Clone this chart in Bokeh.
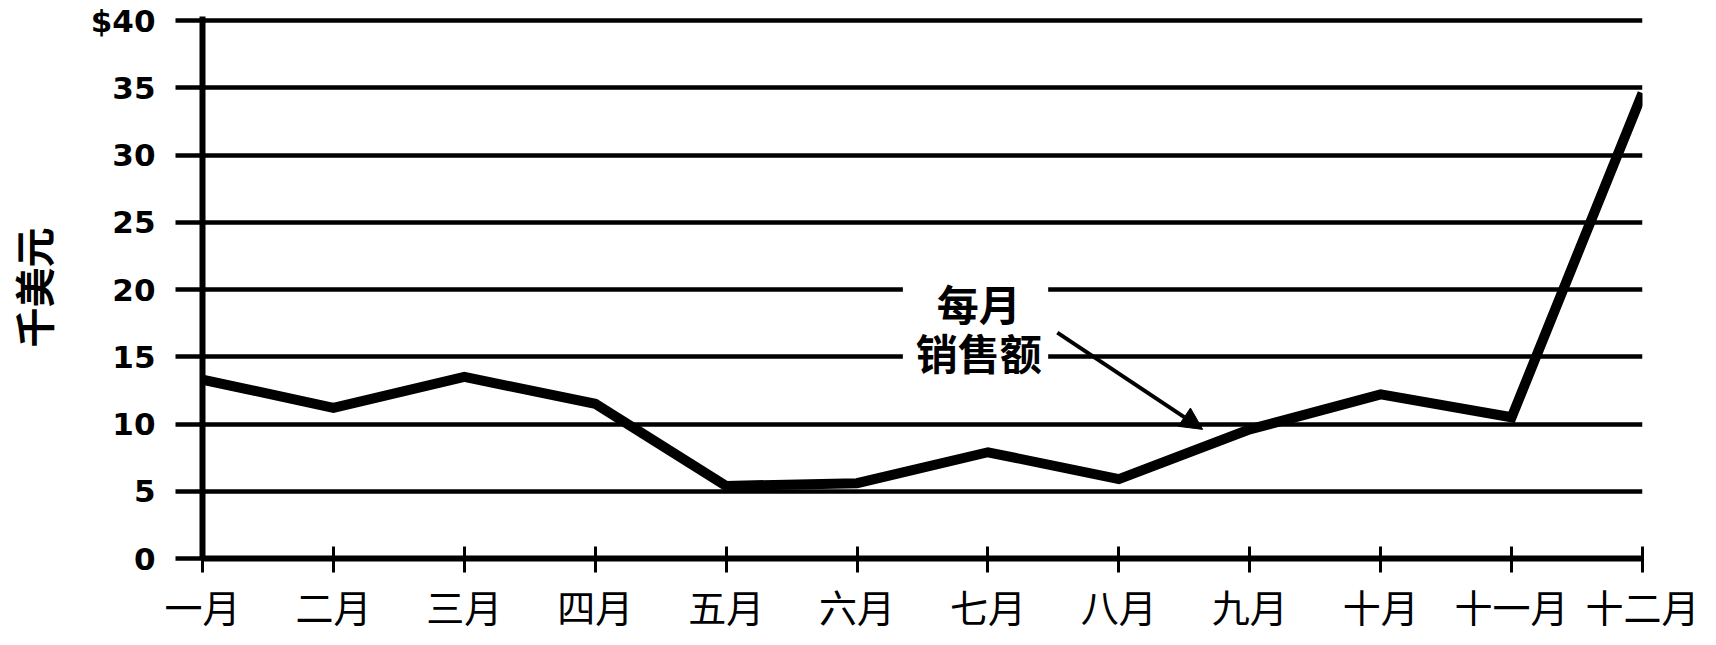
from bokeh.plotting import figure
from bokeh.models import Range1d, FixedTicker, Label, Arrow, NormalHead, BoxAnnotation
from bokeh.embed import file_html
from bokeh.resources import INLINE

# ---- data ----
months = ["一月", "二月", "三月", "四月", "五月", "六月",
          "七月", "八月", "九月", "十月", "十一月", "十二月"]
sales = [13.3, 11.2, 13.5, 11.5, 5.4, 5.6, 7.9, 5.9, 9.6, 12.2, 10.5, 34.6]
y_ticks = [0, 5, 10, 15, 20, 25, 30, 35, 40]
y_tick_labels = ["0", "5", "10", "15", "20", "25", "30", "35", "$40"]
y_title = "千美元"
note_lines = ["每月", "销售额"]
note_x = 5.93
note_ys = [19.0, 15.4]
note_box = dict(left=5.35, right=6.46, bottom=13.8, top=20.7)
arrow_from = (6.53, 16.8)
arrow_to = (7.64, 9.6)

x_idx = list(range(len(months)))

p = figure(width=1716, height=645, output_backend="svg", toolbar_location=None,
           x_range=Range1d(0, len(months) - 1), y_range=Range1d(0, 40.3),
           min_border_left=202, min_border_right=74, min_border_top=16,
           min_border_bottom=87)
p.outline_line_color = None
p.background_fill_color = "white"
p.border_fill_color = "white"

# grid
p.xgrid.visible = False
p.ygrid.ticker = FixedTicker(ticks=y_ticks)
p.ygrid.grid_line_color = "black"
p.ygrid.grid_line_width = 4.5

# x axis
p.xaxis.ticker = FixedTicker(ticks=x_idx)
p.xaxis.major_label_overrides = {i: m for i, m in zip(x_idx, months)}
p.xaxis.axis_line_width = 6
p.xaxis.axis_line_color = "black"
p.xaxis.major_tick_line_width = 3
p.xaxis.major_tick_line_color = "black"
p.xaxis.major_tick_in = 12
p.xaxis.major_tick_out = 14
p.xaxis.minor_tick_line_color = None
p.xaxis.major_label_standoff = 5
p.xaxis.major_label_text_font = "Noto Sans CJK SC"
p.xaxis.major_label_text_font_size = "38px"
p.xaxis.major_label_text_color = "black"

# y axis
p.yaxis.ticker = FixedTicker(ticks=y_ticks)
p.yaxis.major_label_overrides = {t: l for t, l in zip(y_ticks, y_tick_labels)}
p.yaxis.axis_line_width = 6
p.yaxis.axis_line_color = "black"
p.yaxis.major_tick_line_width = 4.5
p.yaxis.major_tick_line_color = "black"
p.yaxis.major_tick_in = 0
p.yaxis.major_tick_out = 27
p.yaxis.minor_tick_line_color = None
p.yaxis.major_label_standoff = 20
p.yaxis.major_label_text_font = "DejaVu Sans"
p.yaxis.major_label_text_font_style = "bold"
p.yaxis.major_label_text_font_size = "31px"
p.yaxis.major_label_text_color = "black"
p.yaxis.axis_label = y_title
p.yaxis.axis_label_text_font = "Noto Sans CJK SC"
p.yaxis.axis_label_text_font_style = "bold"
p.yaxis.axis_label_text_font_size = "40px"
p.yaxis.axis_label_text_color = "black"
p.yaxis.axis_label_standoff = 26

# data line
p.line(x_idx, sales, line_width=10, line_color="black", line_join="miter")

# annotation: white box behind the note, then the two text lines
p.add_layout(BoxAnnotation(fill_color="white", fill_alpha=1.0, line_color=None,
                           **note_box))
for txt, yy in zip(note_lines, note_ys):
    p.add_layout(Label(x=note_x, y=yy, text=txt, text_align="center",
                       text_baseline="middle", text_font="Noto Sans CJK SC",
                       text_font_style="bold", text_font_size="42px",
                       text_color="black"))

arr = Arrow(end=NormalHead(size=22, fill_color="black", line_color="black"),
            x_start=arrow_from[0], y_start=arrow_from[1],
            x_end=arrow_to[0], y_end=arrow_to[1],
            line_width=4, line_color="black")
p.add_layout(arr)

open("out.html", "w").write(file_html(p, INLINE))
